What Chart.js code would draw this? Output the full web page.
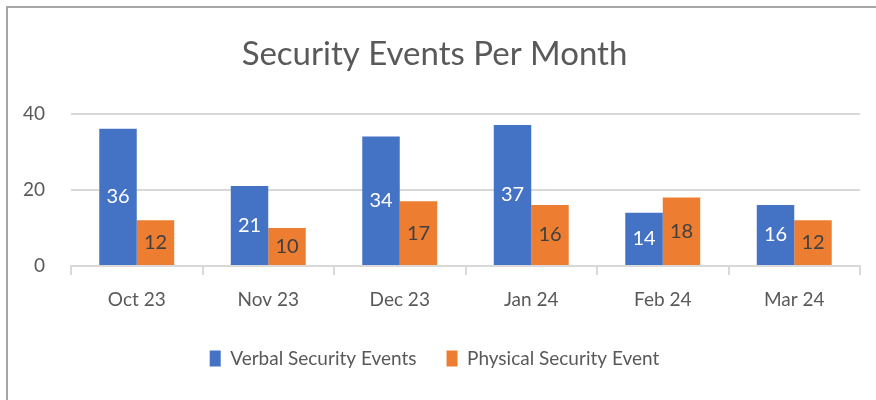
<!DOCTYPE html>
<html lang="en">
<head>
    <meta charset="UTF-8">
    <title>Security Events Per Month</title>
    <style>
        html, body { margin: 0; padding: 0; background: #fff; }
        #frame {
            position: absolute; left: 6px; top: 6px; width: 870px; height: 394px;
            border-top: 2px solid #a6a6a6; border-left: 2px solid #a6a6a6;
        }
        #wrap { position: absolute; left: 9px; top: 0; width: 867px; height: 400px; }
    </style>
</head>
<body>
    <div id="frame"></div>
    <div id="wrap"><canvas id="chart"></canvas></div>

    <script src="https://cdn.jsdelivr.net/npm/chart.js"></script>
    <script>
        const months = ['Oct 23', 'Nov 23', 'Dec 23', 'Jan 24', 'Feb 24', 'Mar 24'];
        const verbalEvents = [36, 21, 34, 37, 14, 16];
        const physicalEvents = [12, 10, 17, 16, 18, 12];
        const yTicks = [0, 20, 40];

        const FONT = 'Lato, "Open Sans", sans-serif';
        const GREY_TEXT = '#595959';
        const GRID = '#d9d9d9';

        // values written in the middle of each bar
        const barLabels = {
            id: 'barLabels',
            afterDatasetsDraw(chart) {
                const ctx = chart.ctx;
                ctx.save();
                ctx.font = '20px ' + FONT;
                ctx.textAlign = 'center';
                ctx.textBaseline = 'middle';
                chart.data.datasets.forEach((ds, i) => {
                    chart.getDatasetMeta(i).data.forEach((bar, j) => {
                        ctx.fillStyle = ds.labelColor;
                        ctx.fillText(ds.data[j], bar.x, (bar.y + bar.base) / 2);
                    });
                });
                ctx.restore();
            }
        };

        new Chart(document.getElementById('chart'), {
            type: 'bar',
            data: {
                labels: months,
                datasets: [
                    { label: 'Verbal Security Events', data: verbalEvents, backgroundColor: '#4472C4', labelColor: '#ffffff' },
                    { label: 'Physical Security Event', data: physicalEvents, backgroundColor: '#ED7D31', labelColor: '#404040' }
                ]
            },
            options: {
                responsive: true,
                maintainAspectRatio: false,
                animation: false,
                categoryPercentage: 0.57,
                barPercentage: 1,
                layout: { padding: { top: 0, right: 16, bottom: 22, left: 0 } },
                plugins: {
                    tooltip: { enabled: false },
                    title: {
                        display: true,
                        text: 'Security Events Per Month',
                        color: GREY_TEXT,
                        font: { family: FONT, size: 33, weight: 'normal' },
                        padding: { top: 35, bottom: 39 }
                    },
                    legend: {
                        position: 'bottom',
                        labels: {
                            color: GREY_TEXT,
                            font: { family: FONT, size: 19 },
                            boxWidth: 11,
                            boxHeight: 16,
                            padding: 30
                        }
                    }
                },
                scales: {
                    x: {
                        grid: { drawOnChartArea: false, drawTicks: true, tickLength: 9, color: GRID, lineWidth: 2 },
                        border: { color: GRID, width: 2 },
                        ticks: { color: GREY_TEXT, font: { family: FONT, size: 19 }, padding: 13 },
                        afterFit: s => { s.height = 53; }
                    },
                    y: {
                        min: 0,
                        max: 40,
                        afterBuildTicks: s => { s.ticks = yTicks.map(v => ({ value: v })); },
                        grid: { color: GRID, lineWidth: 2, drawTicks: false },
                        border: { display: false },
                        ticks: { color: GREY_TEXT, font: { family: FONT, size: 19 }, padding: 26 },
                        afterFit: s => { s.width = 62; }
                    }
                }
            },
            plugins: [barLabels]
        });
    </script>
</body>
</html>
